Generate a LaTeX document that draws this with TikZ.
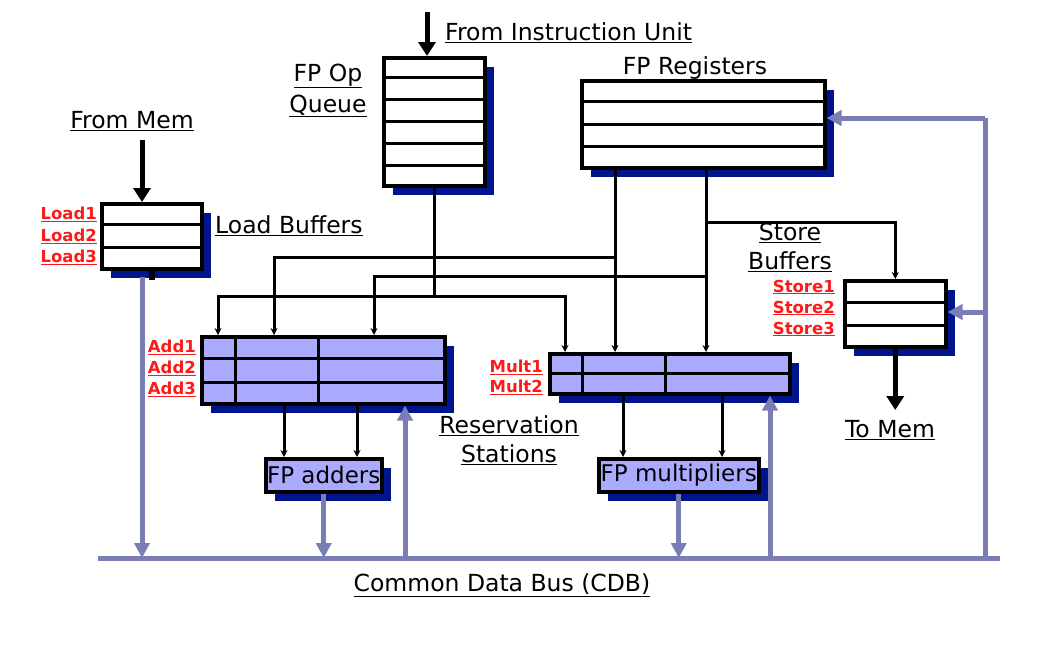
\documentclass[tikz,border=0pt]{standalone}
\usepackage{fontspec}
\setmainfont{DejaVu Sans}
\usetikzlibrary{arrows.meta,calc,shadows}
\definecolor{shadowblue}{HTML}{00148C}
\definecolor{rsfill}{HTML}{AAAAFF}
\definecolor{busc}{HTML}{7B7DB5}
\definecolor{lblred}{HTML}{FF1A1A}
\tikzset{
 box/.style={draw=black, line width=3.5pt, fill=white, anchor=north west, inner sep=0pt,
   drop shadow={shadow xshift=9pt,shadow yshift=-9pt,fill=shadowblue,opacity=1}},
 rsbox/.style={box, fill=rsfill},
 rowline/.style={line width=3pt},
 wire/.style={line width=3pt},
 wirearrow/.style={wire, -{Stealth[length=7pt,width=7pt]}},
 bigarrow/.style={line width=5pt, -{Triangle[length=14pt,width=17pt]}},
 busline/.style={draw=busc, line width=5pt},
 busarrow/.style={busline, -{Triangle[length=15pt,width=15pt]}},
 lbl/.style={inner sep=0pt, font=\fontsize{23.5}{27}\selectfont},
 tag/.style={inner sep=0pt, anchor=east, text=lblred, font=\fontsize{16.5}{19}\selectfont\bfseries},
}
\begin{document}
\begin{tikzpicture}[x=1pt,y=-1pt]
\useasboundingbox (0,0) rectangle (1039,654);

% ---- boxes
\node[box, minimum width=101pt, minimum height=128pt] (q) at (382,56) {};
\node[box, minimum width=243pt, minimum height=87pt] (reg) at (580,79) {};
\node[box, minimum width=100pt, minimum height=65pt] (load) at (100,202) {};
\node[box, minimum width=101pt, minimum height=66pt] (store) at (843,279) {};
\node[rsbox, minimum width=243pt, minimum height=67pt] (addrs) at (200,335) {};
\node[rsbox, minimum width=240pt, minimum height=40pt] (mulrs) at (548,352) {};
\node[rsbox, minimum width=116pt, minimum height=33pt, font=\fontsize{23}{27}\selectfont] (fpadd) at (264,457) {FP adders};
\node[rsbox, minimum width=160pt, minimum height=33pt, font=\fontsize{23}{27}\selectfont] (fpmul) at (597,457) {FP multipliers};

% ---- row lines
\foreach \i in {1,...,5}
  \draw[rowline] ($(q.north west)!\i/6!(q.south west)$) -- ($(q.north east)!\i/6!(q.south east)$);
\foreach \i in {1,2,3}
  \draw[rowline] ($(reg.north west)!\i/4!(reg.south west)$) -- ($(reg.north east)!\i/4!(reg.south east)$);
\foreach \i in {1,2}
  \draw[rowline] ($(load.north west)!\i/3!(load.south west)$) -- ($(load.north east)!\i/3!(load.south east)$);
\foreach \i in {1,2}
  \draw[rowline] ($(store.north west)!\i/3!(store.south west)$) -- ($(store.north east)!\i/3!(store.south east)$);
\foreach \i in {1,2}
  \draw[rowline] ($(addrs.north west)!\i/3!(addrs.south west)$) -- ($(addrs.north east)!\i/3!(addrs.south east)$);
\draw[rowline] ($(mulrs.north west)!0.5!(mulrs.south west)$) -- ($(mulrs.north east)!0.5!(mulrs.south east)$);
\foreach \d in {35,118}
  \draw[rowline] ($(addrs.north west)+(\d,0)$) -- ($(addrs.south west)+(\d,0)$);
\foreach \d in {34,117}
  \draw[rowline] ($(mulrs.north west)+(\d,0)$) -- ($(mulrs.south west)+(\d,0)$);

% ---- texts
\node[lbl, anchor=west] (tfiu) at (445,33) {\underline{From Instruction Unit}};
\node[lbl] (tfpop) at (328,76) {\underline{FP Op}};
\node[lbl] (tqueue) at (328,106) {\underline{Queue}};
\node[lbl] (treg) at (695,68) {FP Registers};
\node[lbl] (tfm) at (132,121) {\underline{From Mem}};
\node[lbl, anchor=west] (tlb) at (215,226) {\underline{Load Buffers}};
\node[lbl] (tstore) at (790,233) {\underline{Store}};
\node[lbl] (tbuf) at (790,262) {\underline{Buffers}};
\node[lbl] (ttm) at (890,430) {\underline{To Mem}};
\node[lbl] (tres) at (509,426) {\underline{Reservation}};
\node[lbl] (tsta) at (509,455) {\underline{Stations}};
\node[lbl] (tcdb) at (502,585) {\underline{Common Data Bus (CDB)}};

\node[tag] (l1) at (97,214) {\underline{Load1}};
\node[tag] (l2) at (97,236) {\underline{Load2}};
\node[tag] (l3) at (97,257) {\underline{Load3}};
\node[tag] (a1) at (196,347) {\underline{Add1}};
\node[tag] (a2) at (196,368) {\underline{Add2}};
\node[tag] (a3) at (196,389) {\underline{Add3}};
\node[tag] (m1) at (543,367) {\underline{Mult1}};
\node[tag] (m2) at (543,387) {\underline{Mult2}};
\node[tag] (s1) at (835,287) {\underline{Store1}};
\node[tag] (s2) at (835,308) {\underline{Store2}};
\node[tag] (s3) at (835,329) {\underline{Store3}};

% ---- thick black arrows
\coordinate (fiu) at (427,12);
\draw[bigarrow] (fiu) -- (fiu |- q.north);
\coordinate (fm) at (142,140);
\draw[bigarrow] (fm) -- (fm |- load.north);
\coordinate (tm) at (894,410);
\draw[bigarrow] (store.south) -- (store.south |- tm);
\draw[line width=6pt] (load.south) -- ++(0,9);

% ---- black wires
\coordinate (y296) at (0,296);
\coordinate (y257) at (0,257);
\coordinate (y276) at (0,276);
\coordinate (y222) at (0,222);
\coordinate (qj) at (q.south |- y296);
\draw[wire] (q.south) -- (qj);
\draw[wirearrow] (qj) -| ($(addrs.north west)+(18,0)$);
\draw[wirearrow] (qj) -| ($(mulrs.north west)+(17,0)$);
\coordinate (r1) at ($(reg.south west)+(35,0)$);
\coordinate (r2) at ($(reg.south west)+(126,0)$);
\draw[wirearrow] (r1) -- (r1 |- mulrs.north);
\draw[wirearrow] (r2) -- (r2 |- mulrs.north);
\draw[wirearrow] (r1 |- y257) -| ($(addrs.north west)+(74,0)$);
\draw[wirearrow] (r2 |- y276) -| ($(addrs.north west)+(174,0)$);
\draw[wirearrow] (r2 |- y222) -| (store.north);
\coordinate (ad1) at ($(addrs.south west)+(84,0)$);
\coordinate (ad2) at ($(addrs.south west)+(157,0)$);
\draw[wirearrow] (ad1) -- (ad1 |- fpadd.north);
\draw[wirearrow] (ad2) -- (ad2 |- fpadd.north);
\coordinate (md1) at ($(mulrs.south west)+(75,0)$);
\coordinate (md2) at ($(mulrs.south west)+(174,0)$);
\draw[wirearrow] (md1) -- (md1 |- fpmul.north);
\draw[wirearrow] (md2) -- (md2 |- fpmul.north);

% ---- common data bus
\coordinate (cdbL) at (98,558);
\coordinate (cdbR) at (1000,558);
\draw[busline] (cdbL) -- (cdbR);
\coordinate (ldb) at (142,277);
\draw[busarrow] (ldb) -- (ldb |- cdbL);
\draw[busarrow] (fpadd.south) -- (fpadd.south |- cdbL);
\draw[busarrow] (fpmul.south) -- (fpmul.south |- cdbL);
\coordinate (ua) at (405,558);
\draw[busarrow] (ua) -- (ua |- addrs.south);
\coordinate (um) at (770,558);
\draw[busarrow] (um) -- (um |- mulrs.south);
\coordinate (rb) at (985,558);
\coordinate (rbt) at (985,118);
\draw[busline] (rb) -- (rbt);
\draw[busarrow] (rbt) -- (rbt -| reg.east);
\coordinate (rbs) at (985,312);
\draw[busarrow] (rbs) -- (rbs -| store.east);
\end{tikzpicture}
\end{document}
